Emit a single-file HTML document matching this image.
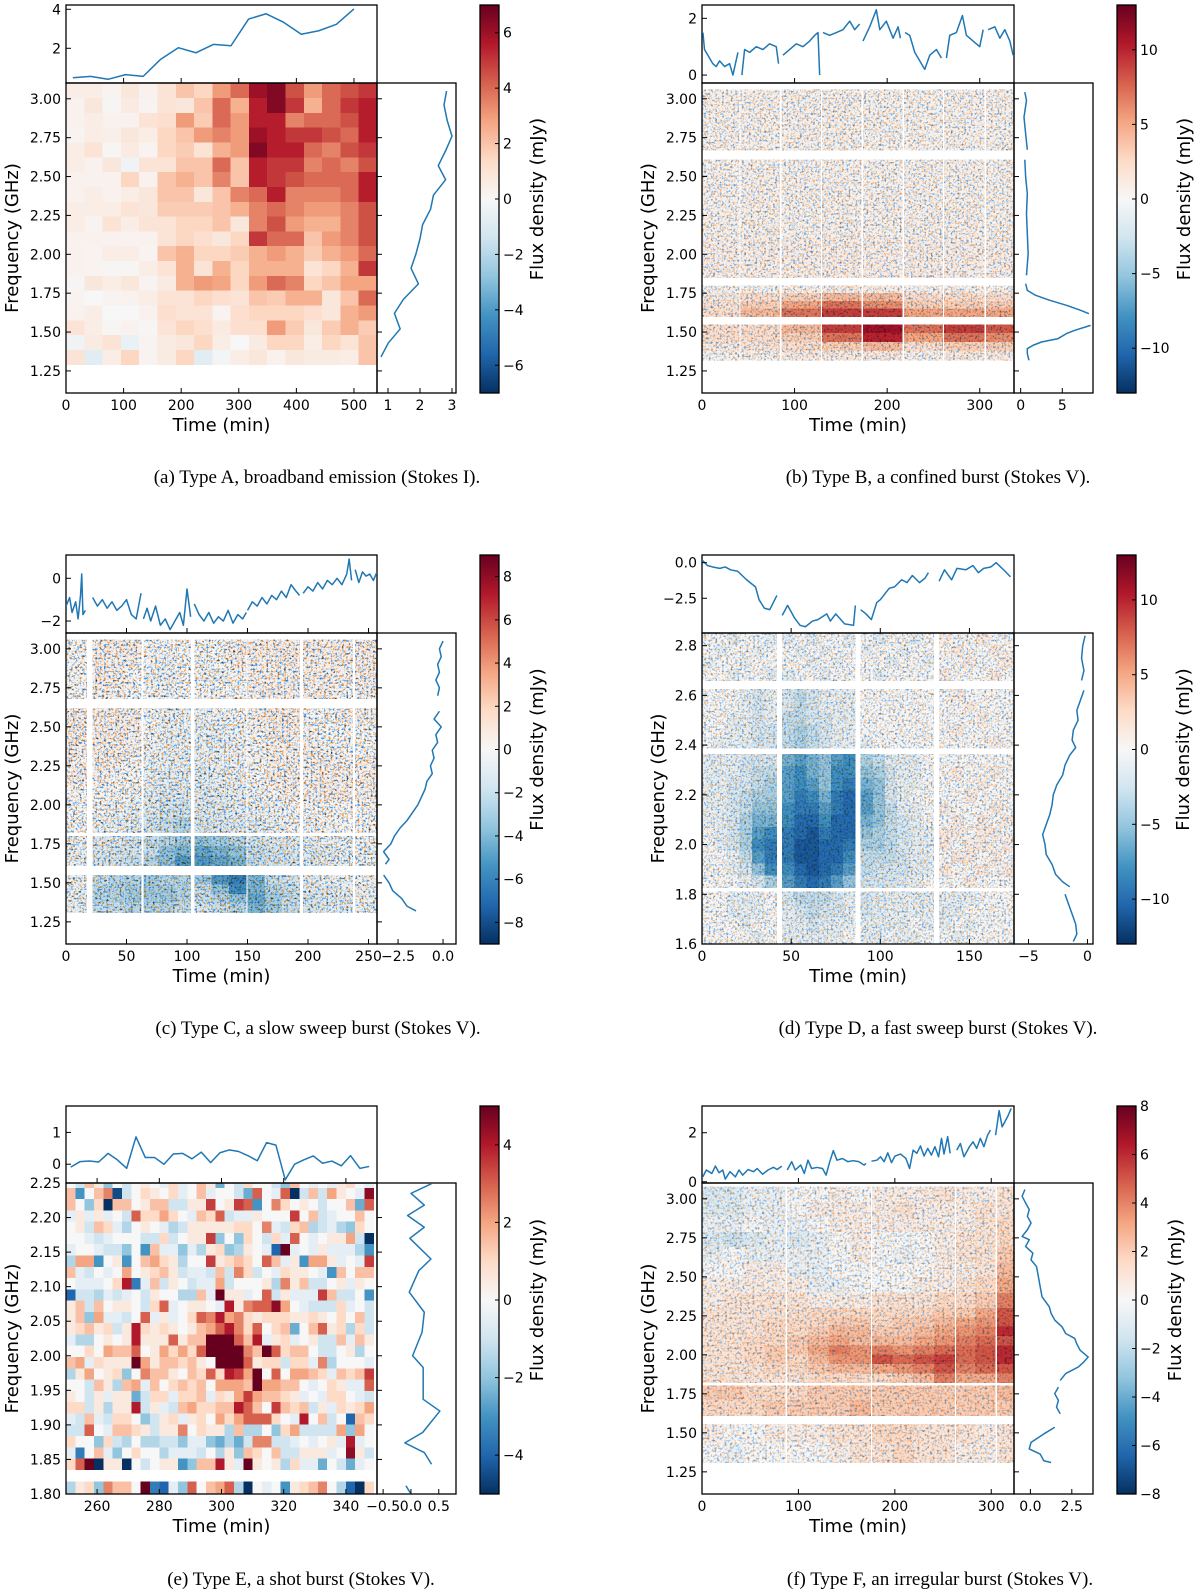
<!DOCTYPE html>
<html><head><meta charset="utf-8">
<style>
html,body{margin:0;padding:0;background:#fff;}
svg{display:block;}
text{font-family:"DejaVu Sans","Liberation Sans",sans-serif;fill:#000;}
.cap{font-family:"Liberation Serif",serif;font-size:19px;}
</style></head>
<body>
<svg id="fig" width="1200" height="1593" viewBox="0 0 1200 1593" xmlns="http://www.w3.org/2000/svg">
<defs>
<linearGradient id="rdbu" x1="0" y1="1" x2="0" y2="0">
<stop offset="0" stop-color="#053061"/><stop offset="0.1" stop-color="#2166ac"/><stop offset="0.2" stop-color="#4393c3"/><stop offset="0.3" stop-color="#92c5de"/><stop offset="0.4" stop-color="#d1e5f0"/><stop offset="0.5" stop-color="#f7f7f7"/><stop offset="0.6" stop-color="#fddbc7"/><stop offset="0.7" stop-color="#f4a582"/><stop offset="0.8" stop-color="#d6604d"/><stop offset="0.9" stop-color="#b2182b"/><stop offset="1" stop-color="#67001f"/>
</linearGradient>
<filter id="speckle85" color-interpolation-filters="sRGB" x="0" y="0" width="1" height="1">
<feTurbulence type="fractalNoise" baseFrequency="0.45" numOctaves="2" seed="3" result="t"/>
<feComponentTransfer in="t" result="th"><feFuncR type="linear" slope="4" intercept="-2.1"/><feFuncG type="linear" slope="4" intercept="-2.1"/><feFuncB type="linear" slope="0" intercept="0"/><feFuncA type="linear" slope="0" intercept="1"/></feComponentTransfer>
<feColorMatrix in="th" type="matrix" values="0 -0.85 0 0 1  -0.42 -0.42 0 0 1  -0.85 0 0 0 1  0 0 0 0 1" result="m"/>
<feBlend in="SourceGraphic" in2="m" mode="multiply" result="b"/>
<feComposite in="b" in2="SourceAlpha" operator="in"/>
</filter>
<filter id="speckle60" color-interpolation-filters="sRGB" x="0" y="0" width="1" height="1">
<feTurbulence type="fractalNoise" baseFrequency="0.45" numOctaves="2" seed="7" result="t"/>
<feComponentTransfer in="t" result="th"><feFuncR type="linear" slope="4" intercept="-2.1"/><feFuncG type="linear" slope="4" intercept="-2.1"/><feFuncB type="linear" slope="0" intercept="0"/><feFuncA type="linear" slope="0" intercept="1"/></feComponentTransfer>
<feColorMatrix in="th" type="matrix" values="0 -0.6 0 0 1  -0.3 -0.3 0 0 1  -0.6 0 0 0 1  0 0 0 0 1" result="m"/>
<feBlend in="SourceGraphic" in2="m" mode="multiply" result="b"/>
<feComposite in="b" in2="SourceAlpha" operator="in"/>
</filter>
<filter id="speckle50" color-interpolation-filters="sRGB" x="0" y="0" width="1" height="1">
<feTurbulence type="fractalNoise" baseFrequency="0.4" numOctaves="2" seed="11" result="t"/>
<feComponentTransfer in="t" result="th"><feFuncR type="linear" slope="4" intercept="-2.1"/><feFuncG type="linear" slope="4" intercept="-2.1"/><feFuncB type="linear" slope="0" intercept="0"/><feFuncA type="linear" slope="0" intercept="1"/></feComponentTransfer>
<feColorMatrix in="th" type="matrix" values="0 -0.5 0 0 1  -0.25 -0.25 0 0 1  -0.5 0 0 0 1  0 0 0 0 1" result="m"/>
<feBlend in="SourceGraphic" in2="m" mode="multiply" result="b"/>
<feComposite in="b" in2="SourceAlpha" operator="in"/>
</filter>
</defs>
</svg>
<script>
// ---------- Panel A data ----------
const aVals = [
[0.5,0.5,0.2,0.8,0.3,1,2,1.5,3,4,6,6.5,4.5,3,4,4.5,5],
[0.3,0.8,0.1,0.6,0.2,1,0.8,2,4,2.5,5.5,6.5,5,2.5,4,5,5.5],
[0.3,0.5,0.3,0.3,1,1.2,3,1.8,4,3,5.5,5.5,3.5,4,4,4.5,5.5],
[0.2,0.5,0.4,0.8,0.5,1.5,2,3,3.5,3,6,5.5,5,5,4.5,4,5.5],
[0.5,1,0.1,0.6,0.2,1.5,1.8,1,2.5,3,6.5,5.5,5.5,4,3.5,4.5,5],
[0.5,0.3,0.8,-0.3,1,1,2,2,4,2,5.5,5,5,3.5,4,3.5,4.5],
[0.3,0.3,0.3,1.5,0.3,2,2.5,2,3.5,2,5.5,5,4.5,4,4,4,5.5],
[0.3,0.5,0.3,0.5,0.8,2,2,0.8,2,3.5,4,5.5,3.5,3.5,3.5,4,5.5],
[0.5,0.5,0.5,1,0.8,1.8,1.8,1.8,2,2.5,3.5,4,3.5,3,3,3.5,4.5],
[0.5,0.2,1,0.5,1,1,1.5,1.5,2,0.8,3.5,4.5,3,2.5,2.5,3.5,4.5],
[0.3,0.3,0.3,0.2,0.3,1,1.5,1.2,0.8,1.5,5,4,4,2,3,3.5,4.5],
[0.3,0.2,0.5,0.5,0.2,2,2.5,1.5,1.5,1.8,2.5,3,2.5,1.8,2.5,3,4],
[0.3,0.2,0.1,0.1,0.5,1,2.5,1,2.5,1.5,2.5,2.5,2.5,1,1.5,2.5,5],
[0.1,0.8,0.5,0.8,0.2,0.6,2.5,3,2.8,1.5,3,4,3.5,1.5,2,2.8,2.8],
[0.2,0,0.2,0.3,0.5,1,1,1.5,1.2,1,2,1.8,2.5,2.5,0.8,2,4],
[0.3,0.5,0,0,0.3,1.2,1,1,0.2,1.2,1.5,1.5,1.5,1.2,0.8,2.5,3],
[1,0.5,0.1,0.3,0.1,1,1.5,1.2,0.6,1.2,1.2,3,1.8,0.8,1.8,2.5,1.8],
[-0.3,0.6,1,-0.5,0.2,0.6,0.8,1.5,0.5,0,0.6,1.5,1.5,0.5,1.5,1,2],
[1,-0.8,0.5,1.5,0.2,0.6,1.5,-0.8,-0.2,0.5,0.8,0.3,0.8,0.6,0.6,0.5,2]
];
const aBlocks = [[0,540,17]];
const aBands = [[3.10,1.29,19]];
const aTopT = [12,42.5,73,103.5,134,164.5,195,225.5,256,286.5,317,347.5,378,408.5,439,469.5,500];
const aTopV = [0.49,0.56,0.41,0.65,0.56,1.44,2.03,1.77,2.2,2.13,3.5,3.77,3.33,2.72,2.9,3.23,4.02];
const aRightF = [3.05,2.96,2.86,2.76,2.67,2.57,2.48,2.38,2.29,2.19,2.10,2.00,1.91,1.81,1.71,1.62,1.52,1.43,1.34];
const aRightV = [2.83,2.75,2.85,3.0,2.81,2.57,2.80,2.42,2.33,2.08,2.0,1.87,1.72,1.95,1.48,1.2,1.38,1.01,0.78];

// ---------- Panel B data ----------
const bBlocks = [[0,40,1],[41.5,84,1],[86,128,1],[129.5,172,1],[174,216,1],[218,260,1],[261.5,305,1],[307,337,1]];
const bBands = [[3.06,2.67,1],[2.61,1.85,3],[1.80,1.60,4],[1.55,1.32,4]];
const bVals = [
[0.5,0.5,0.5,0.6,0.5,0.5,0.5,0.5],
[0.5,0.5,0.5,0.5,0.5,0.5,0.5,0.5],
[0.5,0.6,0.5,0.6,0.5,0.5,0.6,0.5],
[0.7,0.7,0.7,0.8,0.7,0.7,0.7,0.7],
[0.5,0.5,0.5,0.8,0.8,0.5,0.5,0.5],
[1,2,3,4,4,2,2,2],
[1.5,3,5,7,6,3,3,3],
[2,4,7,9,9,5,5,5],
[2,2,4,9,11,7,9,8],
[2,2,3,7,10,5,7,6],
[1,1.5,2,3,4,2,3,3],
[0.5,0.5,1,1,1,0.5,1,1]
];
const bTopT = [1,2.7,8.1,11.7,15.3,19,24.4,29.8,33.4,38.8,null,43.1,46,51.4,58.6,65.8,73,80.2,82.7,null,87.4,94.6,101.8,109,116.3,121.7,125.3,127.1,null,130.7,137.9,145.1,152.3,159.5,164.9,170.3,null,173.9,181.1,188.3,192,199.1,206.4,211.8,214.3,null,219.3,224.4,229.8,235.2,240.6,246,253.2,258.6,null,264,267.6,274.8,281.3,285.6,292.8,300,303.7,null,309.1,316.3,321.7,327.1,332.5,336.1];
const bTopV = [1.5,0.9,0.6,0.4,0.3,0.5,0.3,0.4,0.0,0.8,null,0.0,0.9,0.8,1.0,0.9,1.1,1.0,0.4,null,0.7,0.9,1.1,1.0,1.2,1.4,1.5,0.0,null,1.5,1.4,1.5,1.6,1.9,1.6,1.8,null,1.2,1.7,2.3,1.6,1.9,1.3,1.7,1.3,null,1.5,1.4,0.8,0.5,0.2,0.7,0.9,0.6,null,0.6,1.4,1.5,2.1,1.4,1.2,1.0,1.6,null,1.6,1.7,1.3,1.6,1.2,0.7];
const bRightF = [3.043,2.989,2.882,2.775,2.672,null,2.608,2.497,2.39,2.261,2.132,2.004,1.865,null,1.811,1.768,1.736,1.704,1.672,1.64,1.618,null,1.543,1.511,1.49,1.458,1.436,1.415,1.393,1.361,1.318];
const bRightV = [0.5,0.7,0.4,0.6,0.8,null,0.5,0.6,0.8,0.7,0.8,0.9,0.7,null,0.6,0.8,1.8,3.5,5.5,7.2,8.2,null,8.4,6.5,5.5,4.5,2.5,1.5,0.8,0.8,1.0];

// ---------- Panel C data ----------
const cBlocks = [[0,17,2],[22,62,3],[64,103,3],[106,149,3],[150,193,3],[196,237,3],[239,257,1]];
const cBands = [[3.06,2.68,4],[2.62,1.82,8],[1.80,1.61,3],[1.55,1.31,4]];
const cVals = [
[0,0,0.5,0.5,0.5,0,0,0,0,0,0.5,0.5,0.5,0.5,0.5,0.5,0.5,0.5],
[0,0,0.5,0.3,0.3,0,-0.3,0,-0.3,0,0.3,0.3,0.3,0.5,0.3,0.3,0.3,0.5],
[0,0,0.5,0.3,0,-0.3,-0.3,0,-0.3,-0.3,0,0.3,0.3,0.3,0.3,0.3,0.3,0.5],
[0,0,0.3,0.3,0,0,-0.3,0,0,0,0,0.3,0.3,0.3,0.3,0.3,0,0.3],
[0.5,0.5,0.5,0.5,0.3,0,-0.5,-0.5,-0.5,-0.3,0,0.3,0.5,0.5,0,0,0.3,0.3],
[0.5,0.5,0.5,0.5,0.3,0,-0.5,-0.5,-0.5,-0.5,-0.3,0,0.3,0.3,0,0,0,0],
[0.5,0.5,0.5,0.3,0.3,-0.3,-0.5,-0.5,-0.5,-0.5,-0.3,0,0.3,0.3,0.3,0,0,0],
[0.3,0.3,0.3,0.3,0,-0.5,-0.5,-0.5,-0.5,-0.5,-0.3,0,0.3,0.3,0.3,0.3,0.3,0.3],
[0.3,0.3,0.3,0,0,-0.5,-0.8,-0.8,-0.8,-0.5,-0.5,0,0.3,0.3,0.3,0.5,0.3,0.3],
[0,0,0,0,-0.3,-0.8,-1,-1,-1,-0.8,-0.5,-0.3,0,0.3,0.3,0.5,0.5,0.3],
[0,0,-0.3,-0.3,-0.5,-1,-1.5,-1.5,-1.2,-1,-0.8,-0.5,-0.3,0,0,0,0,0],
[0,0,-0.5,-0.5,-0.8,-1.5,-2,-2.5,-1.5,-1.2,-1,-0.8,-0.5,-0.3,-0.3,0,0,0],
[-0.5,-0.5,-1,-1,-1.5,-2,-2.5,-3,-3.5,-3,-2.5,-1.5,-1,-1,-0.8,-0.5,-0.5,-0.3],
[-0.5,-0.5,-1,-1.5,-1.5,-2,-3.5,-4,-4.5,-4,-3.5,-2,-1.5,-1.2,-1,-0.8,-0.5,-0.5],
[-0.5,-0.5,-1.5,-1.5,-2,-2.5,-3.5,-5,-5,-4.5,-4,-2,-1.5,-1.5,-1,-0.8,-0.5,-0.5],
[-0.5,-0.5,-2,-2.5,-2.5,-3,-2.5,-2.5,-3,-5,-6,-4,-2,-1.5,-1,-0.5,-0.5,-0.3],
[-0.5,-0.5,-2.5,-2.5,-3,-3,-3,-2.5,-2,-3.5,-5.5,-4,-2.5,-2,-1,-1,-0.5,-0.5],
[-0.5,-0.5,-2.5,-2.5,-3,-3,-3,-2.5,-2,-2.5,-3.5,-4.5,-3,-2,-1.5,-1,-1,-0.5],
[-0.5,-0.5,-2,-2,-2.5,-2.5,-2.5,-2,-1.5,-2,-2.5,-4,-3,-2,-1.5,-1,-1,-0.5]
];
const cTopT = [0,3,5,8,10,12,13,14,16,null,22,26,30,34,38,42,46,50,54,58,62,null,64,67,70,74,78,82,86,90,94,97,100,103,null,106,110,114,118,122,126,130,134,138,142,146,149,null,150,154,158,162,166,170,174,178,182,186,190,193,null,196,200,204,208,212,216,220,224,228,232,234,236,null,239,242,245,248,251,254,257];
const cTopV = [-1.3,-0.9,-1.6,-1.1,-1.9,-0.8,0.2,-1.7,-1.5,null,-0.9,-1.3,-1.0,-1.4,-1.1,-1.5,-1.3,-1.0,-1.7,-1.9,-0.7,null,-1.9,-1.4,-2.0,-1.3,-2.2,-1.9,-2.4,-2.0,-1.6,-2.2,-0.5,-1.8,null,-1.2,-1.7,-2.0,-1.6,-2.1,-1.8,-2.0,-1.5,-2.1,-1.7,-1.9,-1.6,null,-1.5,-1.1,-1.3,-0.9,-1.2,-0.8,-1.0,-0.6,-0.9,-0.3,-0.6,-0.8,null,-0.7,-0.4,-0.6,-0.2,-0.5,-0.1,-0.3,0.0,-0.3,0.2,0.9,-0.1,null,0.4,-0.2,0.3,0.1,0.2,-0.1,0.3];
const cRightF = [3.05,3.0,2.95,2.9,2.85,2.8,2.75,2.7,null,2.6,2.55,2.5,2.45,2.4,2.35,2.3,2.25,2.2,2.15,2.1,2.05,2.0,1.95,1.9,1.85,1.8,1.75,1.7,1.65,1.62,null,1.55,1.5,1.45,1.4,1.35,1.32];
const cRightV = [0.0,-0.2,-0.1,-0.3,-0.2,-0.4,-0.2,-0.3,null,-0.2,-0.5,-0.1,-0.4,-0.3,-0.6,-0.5,-0.7,-0.6,-0.9,-1.0,-1.2,-1.4,-1.7,-2.0,-2.4,-2.7,-2.9,-3.3,-3.0,-3.2,null,-3.3,-3.0,-2.8,-2.3,-2.0,-1.5];

// ---------- Panel D data ----------
const dBlocks = [[0,42,6],[45,86,6],[89,130,6],[133,175,6]];
const dBands = [[2.851,2.66,4],[2.626,2.388,5],[2.365,1.827,11],[1.811,1.60,4]];
const dVals = [
[0,0,-1,0,0,-1, -1,0,-1,0,0,-1, 0,-1,0,0,-1,0, 1,0,0,1,0,0],
[0,-1,0,0,-1,0, 0,-1,0,-1,0,0, -1,0,0,-1,0,0, 0,1,0,0,1,0],
[-1,0,0,-1,0,0, 0,0,-1,0,-1,0, 0,0,-1,0,0,-1, 0,0,1,0,0,1],
[0,0,-1,0,0,-1, -1,0,0,-1,0,0, 0,-1,0,0,0,0, 1,0,0,0,1,0],
[0,0,0,-1,-2,-1, -2,-3,-2,-1,-1,-1, 0,0,0,0,0,0, 0,1,0,0,0,0],
[0,0,0,-1,-2,-1, -2,-3,-2,-1,-1,-1, 0,0,0,0,0,0, 0,0,1,0,0,0],
[0,0,-1,-1,-2,-1, -3,-3,-2,-2,-1,-1, 0,0,0,0,0,0, 0,0,0,1,0,0],
[0,0,-1,-1,-2,-2, -3,-4,-3,-2,-1,-1, 0,0,0,0,0,0, 0,1,0,0,0,0],
[0,-1,-1,-1,-2,-2, -3,-4,-3,-2,-1,-1, -1,0,0,0,0,0, 0,0,0,0,1,0],
[-1,-1,-1,-2,-2,-2, -6,-7,-6,-5,-7,-8, -4,-3,-1,-1,-1,0, 0,0,0,0,0,0],
[-1,-1,-1,-2,-3,-3, -7,-8,-6,-5,-8,-8, -5,-4,-2,-1,-1,0, 0,1,0,0,1,0],
[-1,-1,-2,-2,-3,-4, -7,-8,-7,-5,-8,-9, -6,-5,-2,-1,-1,0, 0,0,0,1,0,0],
[-1,-1,-2,-3,-4,-4, -7,-9,-8,-6,-9,-10, -7,-5,-2,-1,0,0, 0,0,1,0,0,0],
[-1,-1,-2,-3,-5,-5, -8,-9,-9,-7,-9,-10, -7,-5,-3,-1,-1,0, 1,0,0,0,1,0],
[-1,-1,-2,-4,-6,-6, -8,-10,-10,-8,-10,-10, -6,-5,-3,-2,-1,0, 0,1,0,1,0,1],
[0,-1,-2,-4,-7,-8, -9,-10,-11,-9,-10,-10, -5,-4,-3,-2,-1,-1, 1,1,0,1,1,0],
[0,-1,-2,-4,-8,-9, -9,-11,-11,-10,-10,-9, -4,-4,-3,-2,-1,-1, 1,0,1,1,0,1],
[0,0,-1,-3,-7,-9, -9,-11,-11,-10,-10,-8, -3,-3,-3,-2,-1,-1, 0,1,1,0,1,0],
[0,0,-1,-2,-5,-8, -8,-10,-11,-10,-9,-7, -3,-2,-2,-2,-1,-1, 1,0,0,1,0,1],
[0,0,0,-1,-2,-4, -7,-9,-10,-9,-7,-5, -2,-2,-2,-1,-1,0, 0,0,1,0,0,0],
[0,0,-1,-1,-1,0, -2,-3,-3,-3,-2,-1, -2,-1,-1,-1,-1,-1, -1,-1,-1,0,0,0],
[0,0,-1,-1,-1,0, -1,-2,-3,-2,-2,-1, -2,-1,-1,-1,-1,-1, -1,-1,0,0,0,0],
[0,0,0,-1,0,0, -1,-1,-2,-1,-1,-1, -1,-1,-1,-1,0,-1, -1,0,-1,0,0,0],
[0,0,0,0,-1,0, -1,-1,-1,-1,-1,0, -1,-1,0,-1,-1,0, 0,-1,0,0,0,0]
];
const dTopT = [0,3,6,10,13,16,20,25,30,32,35,38,40,42,null,45,48,52,55,58,62,65,70,72,75,80,85,86,null,89,92,95,98,100,105,108,112,115,118,122,125,127,null,133,136,140,143,148,152,155,158,162,165,170,173];
const dTopV = [0.2,-0.2,-0.3,-0.4,-0.3,-0.5,-0.6,-1.2,-1.7,-2.6,-3.2,-3.3,-2.8,-2.3,null,-3.7,-3.0,-3.9,-4.4,-4.5,-4.1,-4.0,-3.6,-4.1,-3.6,-4.3,-4.4,-3.0,null,-3.3,-3.6,-4.0,-2.8,-2.6,-1.8,-1.7,-1.2,-1.4,-0.9,-1.4,-1.1,-0.7,null,-1.3,-0.5,-1.2,-0.4,-0.5,-0.2,-0.7,-0.4,-0.3,0.0,-0.6,-1.0];
const dRightF = [2.84,2.8,2.75,2.7,2.66,null,2.62,2.58,2.54,2.5,2.46,2.42,2.39,2.36,2.32,2.28,2.24,2.2,2.16,2.12,2.08,2.04,2.0,1.96,1.92,1.88,1.85,1.83,null,1.8,1.76,1.72,1.68,1.64,1.61];
const dRightV = [-0.2,-0.4,-0.5,-0.3,-0.5,null,-0.3,-0.6,-0.9,-0.8,-1.2,-1.3,-1.0,-1.5,-1.9,-2.1,-2.6,-2.9,-3.0,-3.2,-3.5,-3.8,-3.6,-3.5,-3.0,-2.7,-2.1,-1.5,null,-1.9,-1.6,-1.3,-1.0,-0.9,-1.2];

// ---------- Panel E data ----------
const eBlocks = [[250,349,33]];
const eBands = [[2.25,2.243,1],[2.243,1.835,25],[1.818,1.80,1]];
const eVals = [
[0,-1,1.5,0.5,-2,0,-1,0,0.5,0,-0.5,1,-0.5,0,1.5,0.5,-2.5,0,-1,1,0,0,-1,-2,1.5,0,-0.5,0,-0.5,0.5,1,0,-0.5],
[1.5,-3,0,1.5,2.5,-4.5,-1,0,1,0.5,0,1,-0.5,0,1.5,-0.5,0,0,-1,-2.5,3,0,-0.5,3,-5,-1,1.5,-1,2,0.5,0,-0.5,4.5],
[1.5,0,-2,1,-5,1.5,1.5,0,0.5,1.5,1.5,-1,-1,0.5,0.5,3.5,0,0.5,3.5,3,-3,0,2.5,1,0,0.5,0,-1,0,0,1.5,-2.5,3],
[-0.5,0.5,-0.5,0.5,-0.5,0,-1,3,1,1,2,1,0,-0.5,1.5,1,3,-1,-0.5,-0.5,0.5,0,0,0,3.5,0,1.5,-1,-0.5,0,0,1.5,0],
[0,0.5,-1,1.5,1,-0.5,-1.5,0,0.5,0,-0.5,-1.5,-1,0.5,0.5,0.5,0.5,0.5,1,1,0,2.5,-0.5,-1,1,1.5,-1.5,-1,-0.5,-1.5,-2,1,0],
[0,0,-0.5,-1,-0.5,0,0,0,-1,-1,1,-1,0,0.5,0.5,3.5,-2,0,-2,1,0,-1,1,-0.5,3,0,-0.5,0,0.5,0.5,2,-1,-5],
[-0.5,0,0,-0.5,-1,-1,-2,0,-3,1.5,-0.5,-0.5,-2,-0.5,-1.5,0.5,1,-2,-1.5,0.5,0,-0.5,-4,5,-0.5,0,-0.5,0.5,-0.5,-0.5,-0.5,-1.5,-3],
[-1.5,2,2,-3,0,0.5,-3,0,1.5,2,1,0.5,-1.5,0,0,3.5,0.5,1,1.5,1,0,3,1.5,-0.5,0.5,-3,2,2,0.5,-0.5,0,-0.5,3.5],
[1.5,-0.5,-1,0,-0.5,0,2,0,0.5,1,1.5,0.5,-1,-0.5,-0.5,-1,1.5,-1,2.5,1,-1,0,-0.5,1,0.5,0.5,0,-0.5,-3,1.5,0,1.5,1.5],
[0,-0.5,-0.5,-0.5,0,1,4,-3.5,-0.5,1.5,-1,0.5,0,-1,-0.5,-0.5,2,-1,0,0,0,0.5,-1.5,2.5,0.5,1.5,-1,-1,0,0.5,-0.5,0.5,0],
[-4,-1,-1,-1.5,-0.5,-1,-0.5,0,-1,0.5,0,0,-1.5,-1.5,1.5,-0.5,5,0.5,0.5,-0.5,0,3,-1,0.5,-0.5,-0.5,-0.5,3.5,1.5,-1,-1,0,-3],
[0.5,1.5,-1,1.5,0,0.5,0.5,0,-1,1,3,-0.5,0,0.5,0.5,0,-0.5,4,0.5,2.5,3,3,4.5,2,0,-0.5,-1,-1,-1,1,-0.5,0,-1],
[0.5,1.5,-2,2,-0.5,-0.5,-1,0,3,-0.5,0.5,-0.5,0,1,3,2.5,4,2,2.5,1,0.5,1,1,1,0.5,0.5,1,0.5,0,1,0,1.5,-1],
[0.5,1,1.5,0.5,1,-1,0.5,4,1,0.5,1,0.5,0,0.5,1.5,2,3,4,2.5,1,3,0,1,1.5,-2.5,0,1.5,3,0.5,1,-1.5,1,-1],
[-0.5,-1.5,-1.5,0,0.5,0,0.5,4,0.5,0.5,0.5,3,0.5,1.5,1.5,5,6,6,3,1.5,4,-0.5,0.5,1,-0.5,0,0.5,-1,-1,1.5,-0.5,1.5,0.5],
[0,0,1,0,2,1.5,1.5,3,0,0.5,2,1,2,1,3,5,6,6,6,2.5,1.5,5,3,1,1.5,1.5,0,-1,-1,0,0.5,-1.5,0],
[1.5,2,-0.5,1,0.5,0.5,0.5,5,2,0.5,1.5,1.5,1,1.5,0.5,0,5,6,6,3,0.5,1,1,-1,1,1,-0.5,2.5,-1.5,0,0,0,-0.5],
[-1.5,0.5,2,0,0.5,1,-2,0,2.5,1.5,1.5,0.5,0,1.5,1,3,1,4,3.5,2,5,0,3,0,2,2,1.5,1,-0.5,1.5,1,1.5,3.5],
[0,0,-1,1.5,0.5,-1.5,1.5,2,-0.5,1.5,0,1,1.5,1,1.5,0,2,2,2,1.5,5,2,2,1.5,1.5,0,-0.5,0,1,0.5,-0.5,-0.5,3],
[0.5,0,-1,0.5,-0.5,0.5,0.5,-2.5,-1,1,1,-0.5,1,1,1.5,-0.5,1,0.5,2,3.5,2,1.5,1.5,1,0.5,-0.5,0,-0.5,1,1,0,-0.5,-1],
[1,1,-1,0.5,-1.5,0.5,0.5,4,-1,0.5,-0.5,-1,1.5,2,1,1,1.5,1.5,4,3,1.5,0,3.5,1.5,1,1.5,-1,0.5,-0.5,1,0.5,1,2],
[-0.5,-1,1.5,-0.5,-1,1,1,0,-2,-1,0.5,1,-0.5,0.5,1,0,2,1,2,3,3,3,1,0,-0.5,4,0,1.5,-1,0,-4,1.5,1],
[-1,-1,3,0,-0.5,1.5,1.5,1,0.5,-1,0.5,0.5,2.5,0,1,0.5,0.5,-1.5,1.5,-1.5,-1.5,0,-2,1,2,-1,-1,-1,-1,2,-2,2,0],
[1,0,0,-2,1,-1,-1.5,0,-1.5,-1.5,-1,-1,-2,-0.5,-0.5,-2,-2.5,-1.5,-2.5,-1,2.5,2.5,-1,-1,-0.5,0,-0.5,0,0.5,-0.5,4,-0.5,0],
[-0.5,-3.5,0,1.5,-0.5,-2,0,1,0,0,-1.5,-0.5,-0.5,-0.5,-1,0,-1.5,0.5,-2,1.5,1,0,1.5,-1,-1,0.5,0.5,0.5,-0.5,0,4.5,0.5,-1],
[1,3,5,-5,0.5,0.5,-5,0,-1,0,0.5,0.5,-3,-2,1.5,1.5,4,0.5,-0.5,5,0.5,0,0.5,-1.5,1,-0.5,-0.5,-2.5,0,-1,-2.5,-0.5,0],
[-1.5,0.5,1,-2,2.5,1.5,1.5,0,5,-3.5,-4,-0.5,-2,3,0,1.5,2,3,-1.5,-5,0,-0.5,0,-3,0.5,1,1.5,2.5,0,-1.5,-4,-5,1]
];
const eTopT = [251.5,254.5,257.5,260.5,263.5,266.5,269.5,272.5,275.5,278.5,281.5,284.5,287.5,290.5,293.5,296.5,299.5,302.5,305.5,308.5,311.5,314.5,317.5,320.5,323.5,326.5,329.5,332.5,335.5,338.5,341.5,344.5,347.5];
const eTopV = [-0.09,0.08,0.1,0.07,0.34,0.14,-0.13,0.86,0.21,0.21,0,0.32,0.34,0.17,0.38,0.05,0.36,0.45,0.4,0.27,0.11,0.68,0.6,-0.49,0,0.14,0.26,0.03,0.1,-0.05,0.27,-0.13,-0.07];
const eRightF = [2.249,2.235,2.218,2.203,2.186,2.170,2.140,2.123,2.092,2.063,2.034,2.000,1.983,1.937,1.920,1.889,1.874,1.860,1.843,null,1.812,1.800];
const eRightV = [0.37,0,0.24,-0.06,0.24,-0.02,0.36,0.14,-0.03,0.24,0.2,0.03,0.22,0.22,0.52,0.21,-0.11,0.24,0.37,null,-0.09,0];

// ---------- Panel F data ----------
const fBlocks = [[0,86.5,4],[88,175,4],[176.5,262,4],[263.5,304,2],[306,323.6,1]];
const fBands = [[3.08,2.3,8],[2.3,1.822,8],[1.805,1.611,2],[1.557,1.31,2]];
const fVals = [
[-1,-1,-0.5,-0.5, 0,0,0.5,0, 0.5,0.5,0.5,1, 0.5,0.5, 1],
[-1,-1,-0.5,-0.5, 0,0.5,0.5,0.5, 0.5,1,0.5,0.5, 0.5,1, 1],
[-0.5,-0.5,0,-0.5, -0.5,0,0.5,0.5, 0.5,0.5,0.5,0.5, 0.5,1, 1.5],
[-1,-1.5,-1,-0.5, -1,-0.5,0,0.5, 0,0,0,0.5, 1,1, 1.5],
[-0.5,0,-0.5,-0.5, -0.5,-0.5,0,0.5, 0,-0.5,0,0.5, 1,1, 2],
[0,0,0.5,0.5, -0.5,-0.5,0,0, 0,0,0,0.5, 0.5,1, 2.5],
[0.5,0.5,0.5,0.5, 0.5,-0.5,-0.5,0, 0,0,0.5,0.5, 1,1.5, 3],
[0.5,1,1,1, 1,0.5,0.5,0.5, 1,1,1,1.5, 1.5,2, 4],
[1,1,1,1, 1,1.5,1.5,1.5, 1.5,1.5,1.5,2, 2,3, 5],
[1,1,1,1.5, 1.5,1.5,2,2, 1.5,2,2,2.5, 3,3.5, 5],
[1,1,1,1.5, 1.5,2,2.5,2.5, 2,2,2.5,3, 3.5,4, 6],
[1,1,1.5,1.5, 2,2.5,3,2.5, 2.5,2.5,3,3.5, 4,4.5, 5],
[1,1,1.5,2, 2,3,4,3.5, 4,3.5,4,4.5, 4.5,5, 6],
[1,1,1.5,2, 1.5,2.5,3.5,3.5, 5,4.5,5,5.5, 4.5,5, 6],
[1,1,1,1.5, 1.5,2,2.5,2.5, 3,3.5,4,5, 4,4.5, 5],
[1,1,1,1, 1,1.5,1.5,1.5, 1.5,2,2.5,4, 3,3, 4],
[2,2,1.5,1.5, 1.5,2,2,2, 2,2,2,2, 2,2, 2.5],
[1.5,1.5,1.5,2, 2,2,2,2.5, 2,2,2,2, 2,2, 2],
[0.5,0,0,0.5, 0.5,0.5,1,1, 1.5,1.5,1,1, 1,0.5, 1],
[0,-0.5,0,0, 0,0,0.5,1, 1,1.5,1,1, 0.5,0.5, 1]
];
const fTopT = [0.8,4.5,10.2,13.9,17.7,21.5,24.1,29,34.6,38.4,42.2,47.8,53.4,57.2,62.9,68.5,74.1,77.9,82.8,null,88.4,93,96.7,102.4,106.1,109.9,113.7,119.3,125,128.7,132.5,136.2,140,145.7,151.3,156.9,162.6,168.2,170.1,null,175.8,181.4,185.2,188.9,192.7,196.5,200.2,205.9,211.5,215.3,219,222.8,226.6,230.3,234.1,237.9,241.6,245.4,248.4,251,254.8,257.4,null,264.2,268,271.7,277.4,281.1,284.9,288.7,292.4,296.2,299.2,null,304.5,308.2,311.3,316.9,320.7];
const fTopV = [0.2,0.48,0.34,0.64,0.37,0.48,0.11,0.41,0.2,0.48,0.27,0.5,0.41,0.54,0.31,0.48,0.59,0.5,0.64,null,0.48,0.82,0.48,0.68,0.34,0.88,0.54,0.585,0.54,0.27,0.82,1.27,0.88,0.95,0.82,0.86,0.82,0.68,0.75,null,0.84,0.88,1.02,0.82,1.18,0.78,1.05,1.13,0.95,0.54,1.29,1.16,1.46,1.05,1.36,1.09,1.43,1.02,1.77,1.13,1.84,1.16,null,1.29,1.56,1.02,1.43,1.63,1.36,1.77,1.43,1.9,2.11,null,1.9,2.9,2.24,2.65,2.99];
const fRightF = [3.06,3.017,2.974,2.931,2.888,2.845,2.802,2.759,2.738,2.695,2.652,2.609,2.566,2.502,2.437,2.373,2.308,2.266,2.223,2.180,2.137,2.105,2.073,2.030,1.986,1.954,1.922,1.880,1.836,null,1.793,1.751,1.708,1.665,1.622,null,1.536,1.493,1.439,1.397,1.364,1.321,1.310];
const fRightV = [-0.33,-0.5,-0.29,-0.07,-0.18,0.04,-0.18,-0.5,-0.07,-0.29,0.15,0.04,0.37,0.48,0.59,0.70,1.14,1.25,1.47,1.91,2.13,2.68,2.79,3.0,3.49,3.22,2.89,2.13,1.80,null,1.69,1.47,1.69,1.58,1.80,null,1.47,0.81,0.04,-0.07,0.59,0.81,1.25];

// ---------- rendering ----------
const NS = 'http://www.w3.org/2000/svg';
const svg = document.getElementById('fig');
const STOPS = [[5,48,97],[33,102,172],[67,147,195],[146,197,222],[209,229,240],[247,247,247],[253,219,199],[244,165,130],[214,96,77],[178,24,43],[103,0,31]];
function cmap(v, vmax) {
  let u = (v + vmax) / (2 * vmax);
  u = Math.max(0, Math.min(1, u));
  const p = u * 10; const i = Math.min(9, Math.floor(p)); const f = p - i;
  const a = STOPS[i], b = STOPS[i + 1];
  return 'rgb(' + [0,1,2].map(k => Math.round(a[k] + (b[k] - a[k]) * f)).join(',') + ')';
}
function el(tag, parent, name, inter) {
  const e = document.createElementNS(NS, tag);
  
  
  parent.appendChild(e);
  return e;
}
function set(e, attrs) { for (const k in attrs) e.setAttribute(k, attrs[k]); return e; }
function fmtNum(v, d) { const s = Math.abs(v).toFixed(d); return (v < 0 ? '\u2212' : '') + s; }
function linePath(xs, ys, X, Y) {
  let d = ''; let pen = false;
  for (let i = 0; i < xs.length; i++) {
    if (xs[i] === null || ys[i] === null) { pen = false; continue; }
    d += (pen ? 'L' : 'M') + X(xs[i]).toFixed(2) + ' ' + Y(ys[i]).toFixed(2) + ' ';
    pen = true;
  }
  return d;
}

function drawPanel(P, id) {
  const g = el('g', svg, 'panel-' + id, 'false');
  const X = t => P.x0 + (t - P.t[0]) / (P.t[1] - P.t[0]) * (P.x1 - P.x0);
  const Y = f => P.y0 + (P.f[0] - f) / (P.f[0] - P.f[1]) * (P.y1 - P.y0);
  const cp = el('clipPath', g, 'clip-' + id, 'false'); cp.setAttribute('id', 'clip' + id);
  const cr = el('rect', cp, 'clip-rect', 'false'); set(cr, {x: P.x0, y: P.y0, width: P.x1 - P.x0, height: P.y1 - P.y0});
  const outer = el('g', g, 'heatmap-clip-' + id, 'false');
  outer.setAttribute('clip-path', 'url(#clip' + id + ')');
  const hg = el('g', outer, 'heatmap-' + id, 'false');
  hg.setAttribute('shape-rendering', 'crispEdges');
  if (P.noise) hg.setAttribute('filter', 'url(#' + P.noise + ')');
  let r = 0;
  for (const band of P.bands) {
    const fs = (band[0] - band[1]) / band[2];
    for (let i = 0; i < band[2]; i++, r++) {
      const fTop = band[0] - i * fs, fBot = fTop - fs;
      const row = P.vals[r]; if (!row) continue;
      let c = 0;
      for (const blk of P.blocks) {
        const ts = (blk[1] - blk[0]) / blk[2];
        for (let j = 0; j < blk[2]; j++, c++) {
          const v = row[c]; if (v === null || v === undefined) continue;
          const t0 = blk[0] + j * ts;
          const cell = el('rect', hg, 'heatmap-cell', 'false');
          set(cell, {x: X(t0).toFixed(2), y: Y(fTop).toFixed(2), width: (X(t0 + ts) - X(t0) + 0.3).toFixed(2), height: (Y(fBot) - Y(fTop) + 0.3).toFixed(2), fill: cmap(v, P.vmax)});
        }
      }
    }
  }
  const mf = el('rect', g, 'main-axes-frame', 'false');
  set(mf, {x: P.x0, y: P.y0, width: P.x1 - P.x0, height: P.y1 - P.y0, fill: 'none', stroke: '#000', 'stroke-width': 1.3});
  for (const t of P.xTicks) {
    const tk = el('line', g, 'x-tick', 'false');
    set(tk, {x1: X(t), x2: X(t), y1: P.y1, y2: P.y1 - 5, stroke: '#000', 'stroke-width': 1});
    const tk2 = el('line', g, 'top-panel-x-tick', 'false');
    set(tk2, {x1: X(t), x2: X(t), y1: P.y0, y2: P.y0 - 5, stroke: '#000', 'stroke-width': 1});
    const lb = el('text', g, 'x-tick-label', 'false');
    set(lb, {x: X(t), y: P.y1 + 17, 'text-anchor': 'middle', 'font-size': 14});
    lb.textContent = fmtNum(t, 0);
  }
  for (const f of P.yTicks) {
    const tk = el('line', g, 'y-tick', 'false');
    set(tk, {x1: P.x0, x2: P.x0 + 5, y1: Y(f), y2: Y(f), stroke: '#000', 'stroke-width': 1});
    const tk2 = el('line', g, 'right-panel-y-tick', 'false');
    set(tk2, {x1: P.x1, x2: P.x1 + 5, y1: Y(f), y2: Y(f), stroke: '#000', 'stroke-width': 1});
    const lb = el('text', g, 'y-tick-label', 'false');
    set(lb, {x: P.x0 - 5, y: Y(f) + 5, 'text-anchor': 'end', 'font-size': 14});
    lb.textContent = fmtNum(f, P.yDec);
  }
  const xl = el('text', g, 'x-axis-title', 'false');
  set(xl, {x: (P.x0 + P.x1) / 2, y: P.y1 + 38, 'text-anchor': 'middle', 'font-size': 18});
  xl.textContent = 'Time (min)';
  const yl = el('text', g, 'y-axis-title', 'false');
  set(yl, {x: P.ylx, y: (P.y0 + P.y1) / 2, 'text-anchor': 'middle', 'font-size': 18, transform: 'rotate(-90 ' + P.ylx + ' ' + (P.y0 + P.y1) / 2 + ')', 'dominant-baseline': 'middle'});
  yl.textContent = 'Frequency (GHz)';

  const TY = v => P.ty0 + (P.top.range[0] - v) / (P.top.range[0] - P.top.range[1]) * (P.y0 - P.ty0);
  const tf = el('rect', g, 'time-series-frame', 'false');
  set(tf, {x: P.x0, y: P.ty0, width: P.x1 - P.x0, height: P.y0 - P.ty0, fill: 'none', stroke: '#000', 'stroke-width': 1.3});
  const cp2 = el('clipPath', g, 'clip-top-' + id, 'false'); cp2.setAttribute('id', 'clipT' + id);
  const cr2 = el('rect', cp2, 'clip-rect', 'false'); set(cr2, {x: P.x0, y: P.ty0, width: P.x1 - P.x0, height: P.y0 - P.ty0});
  const tl = el('path', g, 'time-series-line', 'false');
  set(tl, {d: linePath(P.top.t, P.top.v, X, TY), fill: 'none', stroke: '#1f77b4', 'stroke-width': 1.5, 'stroke-linejoin': 'round', 'clip-path': 'url(#clipT' + id + ')'});
  for (const v of P.top.ticks) {
    const tk = el('line', g, 'time-series-y-tick', 'false');
    set(tk, {x1: P.x0, x2: P.x0 + 5, y1: TY(v), y2: TY(v), stroke: '#000', 'stroke-width': 1});
    const lb = el('text', g, 'time-series-y-tick-label', 'false');
    set(lb, {x: P.x0 - 5, y: TY(v) + 5, 'text-anchor': 'end', 'font-size': 14});
    lb.textContent = fmtNum(v, P.top.dec);
  }
  const RX = v => P.x1 + (v - P.right.range[0]) / (P.right.range[1] - P.right.range[0]) * (P.rx1 - P.x1);
  const rf = el('rect', g, 'spectrum-frame', 'false');
  set(rf, {x: P.x1, y: P.y0, width: P.rx1 - P.x1, height: P.y1 - P.y0, fill: 'none', stroke: '#000', 'stroke-width': 1.3});
  const cp3 = el('clipPath', g, 'clip-right-' + id, 'false'); cp3.setAttribute('id', 'clipR' + id);
  const cr3 = el('rect', cp3, 'clip-rect', 'false'); set(cr3, {x: P.x1, y: P.y0, width: P.rx1 - P.x1, height: P.y1 - P.y0});
  const rl = el('path', g, 'spectrum-line', 'false');
  set(rl, {d: linePath(P.right.v, P.right.f, RX, Y), fill: 'none', stroke: '#1f77b4', 'stroke-width': 1.5, 'stroke-linejoin': 'round', 'clip-path': 'url(#clipR' + id + ')'});
  for (const v of P.right.ticks) {
    const tk = el('line', g, 'spectrum-x-tick', 'false');
    set(tk, {x1: RX(v), x2: RX(v), y1: P.y1, y2: P.y1 - 5, stroke: '#000', 'stroke-width': 1});
    const lb = el('text', g, 'spectrum-x-tick-label', 'false');
    set(lb, {x: RX(v), y: P.y1 + 17, 'text-anchor': 'middle', 'font-size': 14});
    lb.textContent = fmtNum(v, P.right.dec);
  }
  const cb = el('rect', g, 'colorbar', 'false');
  set(cb, {x: P.cb[0], y: P.ty0, width: P.cb[1] - P.cb[0], height: P.y1 - P.ty0, fill: 'url(#rdbu)', stroke: '#000', 'stroke-width': 1.3});
  const CY = v => P.y1 - (v + P.vmax) / (2 * P.vmax) * (P.y1 - P.ty0);
  for (const v of P.cbTicks) {
    const tk = el('line', g, 'colorbar-tick', 'false');
    set(tk, {x1: P.cb[1], x2: P.cb[1] - 4, y1: CY(v), y2: CY(v), stroke: '#000', 'stroke-width': 1});
    const lb = el('text', g, 'colorbar-tick-label', 'false');
    set(lb, {x: P.cb[1] + 4, y: CY(v) + 5, 'text-anchor': 'start', 'font-size': 14});
    lb.textContent = fmtNum(v, 0);
  }
  const cl = el('text', g, 'colorbar-title', 'false');
  const cly = (P.ty0 + P.y1) / 2;
  set(cl, {x: P.clx, y: cly, 'text-anchor': 'middle', 'font-size': 18, 'dominant-baseline': 'middle', transform: 'rotate(-90 ' + P.clx + ' ' + cly + ')'});
  cl.textContent = 'Flux density (mJy)';
  const cap = el('text', svg, 'caption-' + id, 'false');
  set(cap, {x: P.capX, y: P.capY, 'text-anchor': 'middle', class: 'cap'});
  cap.textContent = P.caption;
}

const ticks225 = [1.25,1.5,1.75,2.0,2.25,2.5,2.75,3.0];
drawPanel({x0:66,x1:377,y0:83,y1:393,ty0:5,rx1:456,cb:[480,499],t:[0,540],f:[3.1016,1.108],
  xTicks:[0,100,200,300,400,500],yTicks:ticks225,yDec:2,ylx:13,clx:538,vmax:7,cbTicks:[-6,-4,-2,0,2,4,6],
  blocks:aBlocks,bands:aBands,vals:aVals,
  top:{t:aTopT,v:aTopV,range:[4.22,0.22],ticks:[2,4],dec:0},
  right:{f:aRightF,v:aRightV,range:[0.656,3.125],ticks:[1,2,3],dec:0},
  caption:'(a) Type A, broadband emission (Stokes I).',capX:317,capY:483}, 'a');
drawPanel({x0:702,x1:1014,y0:83,y1:393,ty0:5,rx1:1093,cb:[1117,1136],t:[0,337],f:[3.1016,1.108],
  xTicks:[0,100,200,300],yTicks:ticks225,yDec:2,ylx:649,clx:1185,vmax:13,cbTicks:[-10,-5,0,5,10],
  blocks:bBlocks,bands:bBands,vals:bVals,noise:'speckle60',
  top:{t:bTopT,v:bTopV,range:[2.47,-0.28],ticks:[0,2],dec:0},
  right:{f:bRightF,v:bRightV,range:[-0.8,8.69],ticks:[0,5],dec:0},
  caption:'(b) Type B, a confined burst (Stokes V).',capX:938,capY:483}, 'b');
drawPanel({x0:66,x1:377,y0:633,y1:944,ty0:555,rx1:456,cb:[480,499],t:[0,257],f:[3.1016,1.108],
  xTicks:[0,50,100,150,200,250],yTicks:ticks225,yDec:2,ylx:13,clx:538,vmax:9,cbTicks:[-8,-6,-4,-2,0,2,4,6,8],
  blocks:cBlocks,bands:cBands,vals:cVals,noise:'speckle85',
  top:{t:cTopT,v:cTopV,range:[1.09,-2.56],ticks:[-2,0],dec:0},
  right:{f:cRightF,v:cRightV,range:[-3.67,0.72],ticks:[-2.5,0],dec:1},
  caption:'(c) Type C, a slow sweep burst (Stokes V).',capX:318,capY:1034}, 'c');
drawPanel({x0:702,x1:1014,y0:633,y1:944,ty0:555,rx1:1093,cb:[1117,1136],t:[0,175],f:[2.851,1.6],
  xTicks:[0,50,100,150],yTicks:[1.6,1.8,2.0,2.2,2.4,2.6,2.8],yDec:1,ylx:659,clx:1184,vmax:13,cbTicks:[-10,-5,0,5,10],
  blocks:dBlocks,bands:dBands,vals:dVals,noise:'speckle60',
  top:{t:dTopT,v:dTopV,range:[0.54,-4.94],ticks:[-2.5,0],dec:1},
  right:{f:dRightF,v:dRightV,range:[-6.23,0.47],ticks:[-5,0],dec:0},
  caption:'(d) Type D, a fast sweep burst (Stokes V).',capX:938,capY:1034}, 'd');
drawPanel({x0:66,x1:377,y0:1183,y1:1494,ty0:1106,rx1:456,cb:[480,499],t:[250,350],f:[2.25,1.80],
  xTicks:[260,280,300,320,340],yTicks:[1.8,1.85,1.9,1.95,2.0,2.05,2.1,2.15,2.2,2.25],yDec:2,ylx:13,clx:538,vmax:5,cbTicks:[-4,-2,0,2,4],
  blocks:eBlocks,bands:eBands,vals:eVals,
  top:{t:eTopT,v:eTopV,range:[1.83,-0.59],ticks:[0,1],dec:0},
  right:{f:eRightF,v:eRightV,range:[-0.61,0.81],ticks:[-0.5,0,0.5],dec:1},
  caption:'(e) Type E, a shot burst (Stokes V).',capX:301,capY:1585}, 'e');
drawPanel({x0:702,x1:1014,y0:1183,y1:1494,ty0:1106,rx1:1093,cb:[1117,1136],t:[0,323.6],f:[3.1016,1.108],
  xTicks:[0,100,200,300],yTicks:ticks225,yDec:2,ylx:649,clx:1176,vmax:8,cbTicks:[-8,-6,-4,-2,0,2,4,6,8],
  blocks:fBlocks,bands:fBands,vals:fVals,noise:'speckle50',
  top:{t:fTopT,v:fTopV,range:[3.09,-0.05],ticks:[0,2],dec:0},
  right:{f:fRightF,v:fRightV,range:[-0.99,3.78],ticks:[0,2.5],dec:1},
  caption:'(f) Type F, an irregular burst (Stokes V).',capX:940,capY:1585}, 'f');
</script>
</body></html>
